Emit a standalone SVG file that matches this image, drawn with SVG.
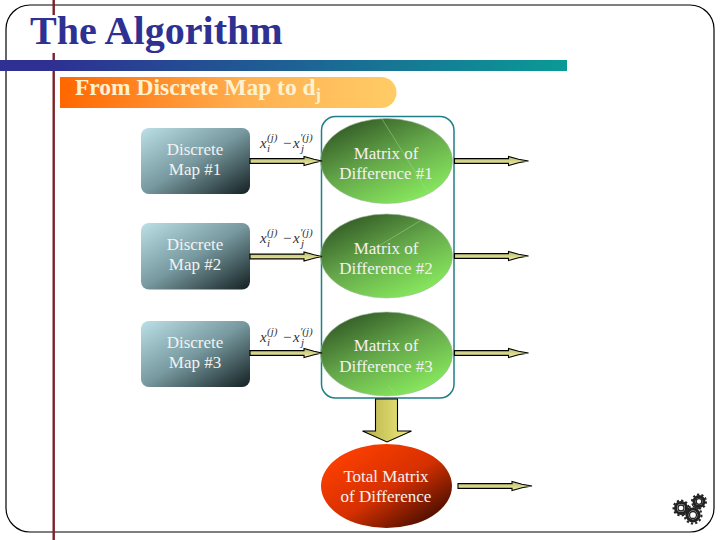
<svg xmlns="http://www.w3.org/2000/svg" xmlns:xlink="http://www.w3.org/1999/xlink" width="720" height="540" viewBox="0 0 720 540">
<style>
text{font-family:"Liberation Serif","Times New Roman",serif}
.title{font-size:40.1px;font-weight:700;fill:#2e3192}
.sub{font-size:23.5px;font-weight:700;fill:#fff2cf}
.lbl{font-size:17px;fill:#f2f2f2;text-anchor:middle}
.fx{font-size:15px;font-style:italic;fill:#333}
.fs{font-size:11px;font-style:italic;fill:#333}
.fm{font-size:15px;fill:#333}
.box{fill:url(#gBox)}
.ell{fill:url(#gGreen);stroke:#9ab89a;stroke-width:.6}
.arrow{fill:url(#gArrow);stroke:#000;stroke-width:1.1}
.gear{fill:none;stroke:#222}
.crack{stroke:#a8d890;stroke-width:.7;fill:none;opacity:.7}
</style>
<defs>
<linearGradient id="gBar" x1="0" x2="1" y1="0" y2="0"><stop offset=".1" stop-color="#2e3192"/><stop offset="1" stop-color="#0a9a96"/></linearGradient>
<linearGradient id="gPill" x1="0" x2="1" y1="0" y2="0"><stop offset="0" stop-color="#ff6600"/><stop offset=".55" stop-color="#ffb050"/><stop offset="1" stop-color="#ffcc66"/></linearGradient>
<linearGradient id="gBox" x1="0" y1="0" x2="1" y2="1"><stop offset="0" stop-color="#bbe0e6"/><stop offset=".5" stop-color="#76989e"/><stop offset="1" stop-color="#142022"/></linearGradient>
<linearGradient id="gGreen" x1=".1" y1="0" x2=".8" y2="1"><stop offset="0" stop-color="#2b4f20"/><stop offset=".5" stop-color="#65a84a"/><stop offset="1" stop-color="#8cf060"/></linearGradient>
<linearGradient id="gRed" x1=".1" y1=".1" x2=".95" y2=".95"><stop offset="0" stop-color="#ff4000"/><stop offset=".5" stop-color="#d63000"/><stop offset="1" stop-color="#2e0800"/></linearGradient>
<linearGradient id="gArrow" x1="0" x2="0" y1="0" y2="1"><stop offset="0" stop-color="#b8b870"/><stop offset="1" stop-color="#f2f2a4"/></linearGradient>
<linearGradient id="gDown" x1="0" x2="1" y1="0" y2="0"><stop offset="0" stop-color="#b4b048"/><stop offset="1" stop-color="#f0ec80"/></linearGradient>
<path id="arrL" d="M0,-2.4H54V-4.5L64,-1.8 72,0 64,1.8 54,4.5V2.4H0Z"/>
<path id="arrR" d="M0,-2.4H54V-4.5L64,-1.8 74,0 64,1.8 54,4.500V2.400H0Z"/>
<g id="formula">
<text class="fx" x="0" y="0">x</text><text class="fs" x="7" y="-7">(j)</text><text class="fs" x="7" y="4">i</text>
<text class="fm" x="23" y="0">−</text>
<text class="fx" x="33" y="0">x</text><text class="fs" x="40" y="-7">'(j)</text><text class="fs" x="41" y="4">j</text>
</g>
</defs>
<rect width="720" height="540" fill="#fff"/>
<rect x="6" y="5" width="708" height="527" rx="24" fill="none" stroke="#000" stroke-width="1.2"/>
<rect x="52.500" y="0" width="2.400" height="540" fill="#7a2226"/>
<rect x="28" y="15" width="258" height="38" fill="#fff"/>
<text class="title" x="30" y="44">The Algorithm</text>
<rect x="0" y="60" width="567" height="11" fill="url(#gBar)"/>
<g id="heading">
<path d="M60,77H381a15.500,15.500 0 0 1 0,31H60Z" fill="url(#gPill)"/>
<text class="sub" x="75" y="95">From Discrete Map to d<tspan font-size="16" dy="5">j</tspan></text>
</g>
<rect id="container" x="321.500" y="116.500" width="132.500" height="281.500" rx="14" fill="none" stroke="#1f7f86" stroke-width="1.500"/>
<g id="map1"><rect class="box" x="141" y="128" width="109" height="66" rx="8"/><text class="lbl" x="195" y="155">Discrete</text><text class="lbl" x="195" y="175">Map #1</text></g>
<g id="map2"><rect class="box" x="141" y="223" width="109" height="66.500" rx="8"/><text class="lbl" x="195" y="250">Discrete</text><text class="lbl" x="195" y="270">Map #2</text></g>
<g id="map3"><rect class="box" x="141" y="321" width="109" height="66" rx="8"/><text class="lbl" x="195" y="348">Discrete</text><text class="lbl" x="195" y="368">Map #3</text></g>
<g id="matrix1"><ellipse class="ell" cx="386.500" cy="161" rx="66" ry="42.500"/><path class="crack" d="M382,119L429,194"/><text class="lbl" x="386" y="159">Matrix of</text><text class="lbl" x="386" y="179">Difference #1</text></g>
<g id="matrix2"><ellipse class="ell" cx="386.500" cy="256" rx="66" ry="42"/><path class="crack" d="M420,221L372,250"/><text class="lbl" x="386" y="254">Matrix of</text><text class="lbl" x="386" y="274">Difference #2</text></g>
<g id="matrix3"><ellipse class="ell" cx="386.500" cy="354" rx="66" ry="42"/><path class="crack" d="M388,385L396,396"/><text class="lbl" x="386" y="351">Matrix of</text><text class="lbl" x="386" y="372">Difference #3</text></g>
<g id="total"><ellipse cx="386.500" cy="486" rx="65.500" ry="42" fill="url(#gRed)"/><text class="lbl" x="386" y="482">Total Matrix</text><text class="lbl" x="386" y="502">of Difference</text></g>
<g id="formulas">
<use xlink:href="#formula" href="#formula" x="260" y="148"/>
<use xlink:href="#formula" href="#formula" x="260" y="243"/>
<use xlink:href="#formula" href="#formula" x="260" y="342"/>
</g>
<g id="connectors">
<use class="arrow" xlink:href="#arrL" href="#arrL" x="250" y="161"/>
<use class="arrow" xlink:href="#arrL" href="#arrL" x="250" y="256.500"/>
<use class="arrow" xlink:href="#arrL" href="#arrL" x="250" y="353"/>
<use class="arrow" xlink:href="#arrR" href="#arrR" x="454.500" y="161"/>
<use class="arrow" xlink:href="#arrR" href="#arrR" x="454.500" y="256"/>
<use class="arrow" xlink:href="#arrR" href="#arrR" x="454.500" y="353"/>
<use class="arrow" xlink:href="#arrR" href="#arrR" x="458" y="486"/>
<path d="M375.500,399H397.500V431H411.500L387,442 362.500,431H375.500Z" fill="url(#gDown)" stroke="#000" stroke-width="1.100"/>
</g>
<g id="gears">
<circle class="gear" cx="681" cy="508" r="5.500" stroke-width="3" stroke="#777"/><circle class="gear" cx="681" cy="508" r="7.500" stroke-width="2" stroke-dasharray="2.200 2.200"/><circle class="gear" cx="681" cy="508" r="3" stroke-width="1.300"/>
<circle class="gear" cx="699" cy="501.500" r="5" stroke-width="3" stroke="#777"/><circle class="gear" cx="699" cy="501.500" r="7" stroke-width="2" stroke-dasharray="2.200 2.200"/><circle class="gear" cx="699" cy="501.500" r="2.800" stroke-width="1.300"/>
<circle class="gear" cx="693" cy="515" r="6" stroke-width="3.200" stroke="#777"/><circle class="gear" cx="693" cy="515" r="8.500" stroke-width="2" stroke-dasharray="2.200 2.200"/><circle class="gear" cx="693" cy="515" r="3.500" stroke-width="1.300"/>
</g>
</svg>
